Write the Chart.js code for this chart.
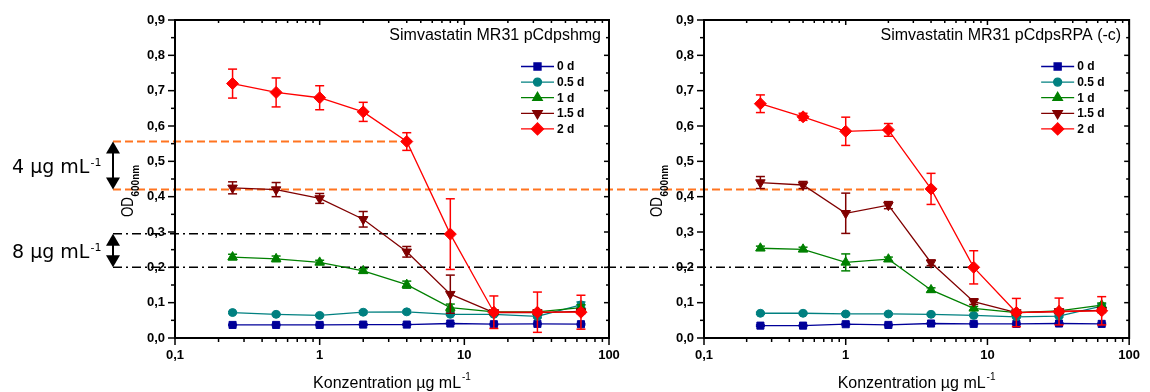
<!DOCTYPE html>
<html>
<head>
<meta charset="utf-8">
<script src="https://cdn.jsdelivr.net/npm/chart.js@4.4.1/dist/chart.umd.min.js"></script>
<style>
  html, body { margin: 0; padding: 0; background: #fff; }
  #wrap { position: relative; width: 1150px; height: 392px; overflow: hidden; }
  canvas { position: absolute; top: 0; }
  #left { left: 0; }
  #right { left: 640px; }
</style>
</head>
<body>
<div id="wrap">
  <canvas id="left" width="640" height="392"></canvas>
  <canvas id="right" width="510" height="392"></canvas>
</div>
<script>
const conc = [0.25, 0.5, 1, 2, 4, 8, 16, 32, 64];
const dayLabels = ['0 d', '0.5 d', '1 d', '1.5 d', '2 d'];
const yTicks = [0, 0.1, 0.2, 0.3, 0.4, 0.5, 0.6, 0.7, 0.8, 0.9];
const yMinor = [0.05, 0.15, 0.25, 0.35, 0.45, 0.55, 0.65, 0.75, 0.85];
const xTicks = [0.1, 1, 10, 100];
const xMinor = [0.2, 0.3, 0.4, 0.5, 0.6, 0.7, 0.8, 0.9, 2, 3, 4, 5, 6, 7, 8, 9, 20, 30, 40, 50, 60, 70, 80, 90];

// left panel: pCdpshmg
const hmg0 = [0.037, 0.037, 0.037, 0.038, 0.038, 0.041, 0.039, 0.040, 0.039];
const hmg05 = [0.072, 0.067, 0.064, 0.073, 0.074, 0.067, 0.067, 0.061, 0.094];
const hmg1 = [0.229, 0.224, 0.214, 0.190, 0.151, 0.086, 0.074, 0.074, 0.086];
const hmg15 = [0.425, 0.420, 0.395, 0.336, 0.244, 0.124, 0.072, 0.072, 0.075];
const hmg2 = [0.720, 0.695, 0.680, 0.640, 0.556, 0.294, 0.073, 0.073, 0.073];
const hmg0Err = [0.002, 0.002, 0.002, 0.002, 0.002, 0.002, 0.002, 0.002, 0.002];
const hmg05Err = [0.003, 0.003, 0.003, 0.004, 0.004, 0.003, 0.003, 0.004, 0.008];
const hmg1Err = [0.008, 0.008, 0.006, 0.006, 0.010, 0.010, 0.005, 0.005, 0.008];
const hmg15Err = [0.017, 0.020, 0.014, 0.022, 0.015, 0.054, 0.006, 0.006, 0.006];
const hmg2Err = [0.041, 0.041, 0.034, 0.027, 0.025, 0.100, 0.046, 0.057, 0.048];

// right panel: pCdpsRPA (-c)
const rpa0 = [0.035, 0.035, 0.039, 0.037, 0.041, 0.040, 0.040, 0.041, 0.040];
const rpa05 = [0.070, 0.070, 0.068, 0.068, 0.067, 0.064, 0.060, 0.062, 0.090];
const rpa1 = [0.254, 0.251, 0.214, 0.223, 0.136, 0.084, 0.072, 0.077, 0.093];
const rpa15 = [0.440, 0.433, 0.353, 0.376, 0.213, 0.103, 0.072, 0.075, 0.078];
const rpa2 = [0.663, 0.626, 0.585, 0.589, 0.422, 0.200, 0.072, 0.075, 0.077];
const rpa0Err = [0.002, 0.002, 0.002, 0.002, 0.002, 0.002, 0.002, 0.002, 0.002];
const rpa05Err = [0.003, 0.003, 0.003, 0.003, 0.003, 0.003, 0.003, 0.003, 0.006];
const rpa1Err = [0.006, 0.006, 0.024, 0.006, 0.006, 0.005, 0.005, 0.005, 0.006];
const rpa15Err = [0.017, 0.010, 0.057, 0.010, 0.008, 0.008, 0.006, 0.006, 0.006];
const rpa2Err = [0.025, 0.010, 0.040, 0.018, 0.044, 0.047, 0.040, 0.038, 0.040];

// OD levels marked by the guide lines, and the concentrations they point to
const cutLevels = [0.556, 0.42, 0.295, 0.2];
const cutConc = [4, 4, 8, 8];
const cutLabels = ['4 μg mL', '8 μg mL'];

const COLORS = ['#000099', '#008080', '#008000', '#800000', '#ff0000'];
const MARKERS = [
  { style: 'rect', r: 5, rot: 0 },
  { style: 'circle', r: 4, rot: 0 },
  { style: 'triangle', r: 5.5, rot: 0 },
  { style: 'triangle', r: 5.5, rot: 180 },
  { style: 'rectRot', r: 6, rot: 0 }
];
const FONT = '"Liberation Sans", Arial, sans-serif';

function makeSets(series, errs) {
  return series.map((vals, i) => ({
    label: dayLabels[i],
    data: conc.map((c, j) => ({ x: c, y: vals[j] })),
    errors: errs[i],
    borderColor: COLORS[i],
    backgroundColor: COLORS[i],
    borderWidth: 1.3,
    pointStyle: MARKERS[i].style,
    pointRadius: MARKERS[i].r,
    pointRotation: MARKERS[i].rot,
    pointBorderWidth: 1,
    tension: 0,
    order: series.length - i
  }));
}

function line(ctx, x1, y1, x2, y2) {
  ctx.beginPath();
  ctx.moveTo(x1, y1);
  ctx.lineTo(x2, y2);
  ctx.stroke();
}

const errorBars = {
  id: 'errorBars',
  afterDatasetDraw(chart, args) {
    const ds = chart.data.datasets[args.index];
    if (!ds.errors) return;
    const { ctx, scales: { y } } = chart;
    ctx.save();
    ctx.strokeStyle = ds.borderColor;
    ctx.lineWidth = 1.5;
    args.meta.data.forEach((pt, i) => {
      const v = ds.data[i].y, e = ds.errors[i];
      const t = y.getPixelForValue(v + e), b = y.getPixelForValue(v - e);
      line(ctx, pt.x, t, pt.x, b);
      line(ctx, pt.x - 4.5, t, pt.x + 4.5, t);
      line(ctx, pt.x - 4.5, b, pt.x + 4.5, b);
    });
    ctx.restore();
  }
};

const frame = {
  id: 'frame',
  afterDraw(chart) {
    const { ctx, chartArea: a, scales: { x, y } } = chart;
    ctx.save();
    ctx.strokeStyle = '#000';
    ctx.lineWidth = 2;
    ctx.strokeRect(a.left, a.top, a.right - a.left, a.bottom - a.top);
    ctx.lineWidth = 1.5;
    yTicks.forEach(v => {
      const p = y.getPixelForValue(v);
      line(ctx, a.left - 7, p, a.left, p);
      line(ctx, a.right, p, a.right - 5, p);
    });
    yMinor.forEach(v => {
      const p = y.getPixelForValue(v);
      line(ctx, a.left - 4, p, a.left, p);
      line(ctx, a.right, p, a.right - 3, p);
    });
    xTicks.forEach(v => {
      const p = x.getPixelForValue(v);
      line(ctx, p, a.bottom, p, a.bottom + 7);
      line(ctx, p, a.top, p, a.top + 5);
    });
    xMinor.forEach(v => {
      const p = x.getPixelForValue(v);
      line(ctx, p, a.bottom, p, a.bottom + 4);
      line(ctx, p, a.top, p, a.top + 3);
    });
    ctx.restore();
  }
};

const panel = {
  id: 'panel',
  beforeDatasetsDraw(chart, args, opts) {
    // guide lines for the 4 and 8 µg/mL levels
    const { ctx, scales: { x, y } } = chart;
    ctx.save();
    opts.cuts.forEach(c => {
      const py = y.getPixelForValue(cutLevels[c.i]);
      const x2 = c.toEdge ? chart.width : x.getPixelForValue(cutConc[c.i]);
      ctx.strokeStyle = c.i < 2 ? '#ff7420' : '#000';
      ctx.lineWidth = c.i < 2 ? 2 : 1.5;
      ctx.setLineDash(c.i < 2 ? [8, 4] : [9, 4, 2, 4]);
      line(ctx, c.from, py, x2, py);
    });
    ctx.setLineDash([]);
    if (opts.arrows) {
      [[0, 1], [2, 3]].forEach(([u, l], k) => {
        const y1 = y.getPixelForValue(cutLevels[u]);
        const y2 = y.getPixelForValue(cutLevels[l]);
        const ax = 113;
        ctx.fillStyle = '#000';
        ctx.strokeStyle = '#000';
        ctx.lineWidth = 2;
        line(ctx, ax, y1 + 6, ax, y2 - 6);
        ctx.beginPath();
        ctx.moveTo(ax, y1); ctx.lineTo(ax + 7, y1 + 12); ctx.lineTo(ax - 7, y1 + 12); ctx.closePath();
        ctx.fill();
        ctx.beginPath();
        ctx.moveTo(ax, y2); ctx.lineTo(ax + 7, y2 - 12); ctx.lineTo(ax - 7, y2 - 12); ctx.closePath();
        ctx.fill();
        const base = (y1 + y2) / 2 + 7;
        ctx.font = '19px "DejaVu Sans", sans-serif';
        ctx.textBaseline = 'alphabetic';
        ctx.textAlign = 'left';
        ctx.fillText(cutLabels[k], 12, base);
        const w = ctx.measureText(cutLabels[k]).width;
        ctx.font = '11px "DejaVu Sans", sans-serif';
        ctx.fillText('-1', 12 + w + 1, base - 7);
      });
    }
    ctx.restore();
  },
  afterDraw(chart, args, opts) {
    const { ctx, chartArea: a } = chart;
    ctx.save();
    ctx.fillStyle = '#000';
    // title inside the frame
    ctx.font = '16px ' + FONT;
    ctx.textAlign = 'right';
    ctx.textBaseline = 'middle';
    ctx.fillText(opts.title, a.right - 8, a.top + 16);
    // legend
    chart.data.datasets.forEach((ds, i) => {
      const ly = a.top + 46.5 + i * 15.6;
      const lx = a.right - 88;
      ctx.strokeStyle = ds.borderColor;
      ctx.fillStyle = ds.borderColor;
      ctx.lineWidth = 1.3;
      line(ctx, lx, ly, lx + 33, ly);
      if (Chart.helpers && Chart.helpers.drawPoint) {
        Chart.helpers.drawPoint(ctx, { pointStyle: ds.pointStyle, rotation: ds.pointRotation, radius: ds.pointRadius, borderWidth: 1 }, lx + 16.5, ly);
      }
      ctx.fillStyle = '#000';
      ctx.font = 'bold 12px ' + FONT;
      ctx.textAlign = 'left';
      ctx.fillText(ds.label, lx + 36, ly + 0.5);
    });
    // x axis title
    ctx.font = '16px ' + FONT;
    ctx.textAlign = 'left';
    ctx.textBaseline = 'alphabetic';
    const xt = 'Konzentration µg mL';
    const w = ctx.measureText(xt).width;
    ctx.font = '10px ' + FONT;
    const ws = ctx.measureText('-1').width;
    const cx = (a.left + a.right) / 2 - (w + ws + 1) / 2;
    ctx.font = '16px ' + FONT;
    ctx.fillText(xt, cx, 388);
    ctx.font = '10px ' + FONT;
    ctx.fillText('-1', cx + w + 1, 380);
    // y axis title OD600nm
    ctx.translate(a.left - 42, 217);
    ctx.rotate(-Math.PI / 2);
    ctx.save();
    ctx.scale(0.83, 1);
    ctx.font = '16px ' + FONT;
    ctx.fillText('OD', 0, 0);
    ctx.restore();
    ctx.font = 'bold 10px ' + FONT;
    ctx.fillText('600nm', 20.5, 5.5);
    ctx.restore();
  }
};

function makeChart(id, sets, yWidth, padRight, opts) {
  return new Chart(document.getElementById(id), {
    type: 'line',
    data: { datasets: sets },
    plugins: [errorBars, frame, panel],
    options: {
      responsive: false,
      animation: false,
      devicePixelRatio: 1,
      layout: { padding: { left: 0, top: 20, right: padRight, bottom: 0 } },
      scales: {
        x: {
          type: 'logarithmic',
          min: 0.1,
          max: 100,
          afterBuildTicks: s => { s.ticks = xTicks.map(v => ({ value: v })); },
          afterFit: s => { s.height = 54; },
          grid: { display: false, drawTicks: false },
          border: { display: false },
          ticks: {
            padding: 10,
            maxRotation: 0,
            autoSkip: false,
            color: '#000',
            font: { family: FONT, size: 13, weight: 'bold' },
            callback: v => String(v).replace('.', ',')
          }
        },
        y: {
          min: 0,
          max: 0.9,
          afterBuildTicks: s => { s.ticks = yTicks.map(v => ({ value: v })); },
          afterFit: s => { s.width = yWidth; },
          grid: { display: false, drawTicks: false },
          border: { display: false },
          ticks: {
            padding: 10,
            color: '#000',
            font: { family: FONT, size: 13, weight: 'bold' },
            callback: v => v.toFixed(1).replace('.', ',')
          }
        }
      },
      plugins: {
        legend: { display: false },
        tooltip: { enabled: false },
        panel: opts
      }
    }
  });
}

makeChart('left',
  makeSets([hmg0, hmg05, hmg1, hmg15, hmg2], [hmg0Err, hmg05Err, hmg1Err, hmg15Err, hmg2Err]),
  175, 31,
  {
    title: 'Simvastatin MR31 pCdpshmg',
    arrows: true,
    cuts: [
      { i: 0, from: 113, toEdge: false },
      { i: 1, from: 113, toEdge: true },
      { i: 2, from: 113, toEdge: false },
      { i: 3, from: 113, toEdge: true }
    ]
  });

makeChart('right',
  makeSets([rpa0, rpa05, rpa1, rpa15, rpa2], [rpa0Err, rpa05Err, rpa1Err, rpa15Err, rpa2Err]),
  64, 12,
  {
    title: 'Simvastatin MR31 pCdpsRPA (-c)',
    arrows: false,
    cuts: [
      { i: 1, from: 0, toEdge: false },
      { i: 3, from: 0, toEdge: false }
    ]
  });
</script>
</body>
</html>
